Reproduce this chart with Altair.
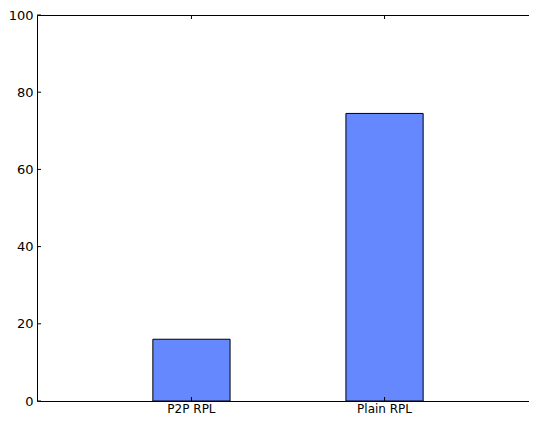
import altair as alt
import pandas as pd

categories = ["P2P RPL", "Plain RPL"]
values = [16.0, 74.5]
y_ticks = [0, 20, 40, 60, 80, 100]

df = pd.DataFrame({"cat": categories, "val": values})
ticks_df = pd.DataFrame({"t": y_ticks})

W, H = 502, 386

xscale = alt.Scale(domain=categories, paddingInner=0.6, paddingOuter=0.6)
yscale = alt.Scale(domain=[0, 100], nice=False, zero=True)

bars = alt.Chart(df).mark_bar(color="#6688ff", stroke="black", strokeWidth=1).encode(
    x=alt.X("cat:N", scale=xscale, sort=categories,
            axis=alt.Axis(title=None, labelAngle=0, ticks=False, domain=False,
                          labelFont="DejaVu Sans", labelFontSize=12, labelColor="black",
                          labelPadding=2)),
    y=alt.Y("val:Q", scale=yscale,
            axis=alt.Axis(title=None, values=y_ticks, ticks=False, domain=False, grid=False,
                          labelFont="DejaVu Sans", labelFontSize=13, labelColor="black",
                          labelPadding=4)),
)

left_ticks = alt.Chart(ticks_df).mark_rule(color="black", strokeWidth=1).encode(
    y=alt.Y("t:Q", scale=yscale), x=alt.value(0), x2=alt.value(4))
right_ticks = alt.Chart(ticks_df).mark_rule(color="black", strokeWidth=1).encode(
    y=alt.Y("t:Q", scale=yscale), x=alt.value(W - 4), x2=alt.value(W))
bottom_ticks = alt.Chart(df).mark_rule(color="black", strokeWidth=1).encode(
    x=alt.X("cat:N", scale=xscale, sort=categories), y=alt.value(H - 4), y2=alt.value(H))
top_ticks = alt.Chart(df).mark_rule(color="black", strokeWidth=1).encode(
    x=alt.X("cat:N", scale=xscale, sort=categories), y=alt.value(0), y2=alt.value(4))

chart = alt.layer(bars, left_ticks, right_ticks, bottom_ticks, top_ticks).properties(
    width=W, height=H,
    autosize=alt.AutoSizeParams(type="none"),
    padding={"left": 29, "top": 7, "right": -10, "bottom": 16},
).configure(background="white", view=alt.ViewConfig(stroke="black", strokeWidth=1))

chart.save("out.html", embed_options={"renderer": "svg", "actions": False})
